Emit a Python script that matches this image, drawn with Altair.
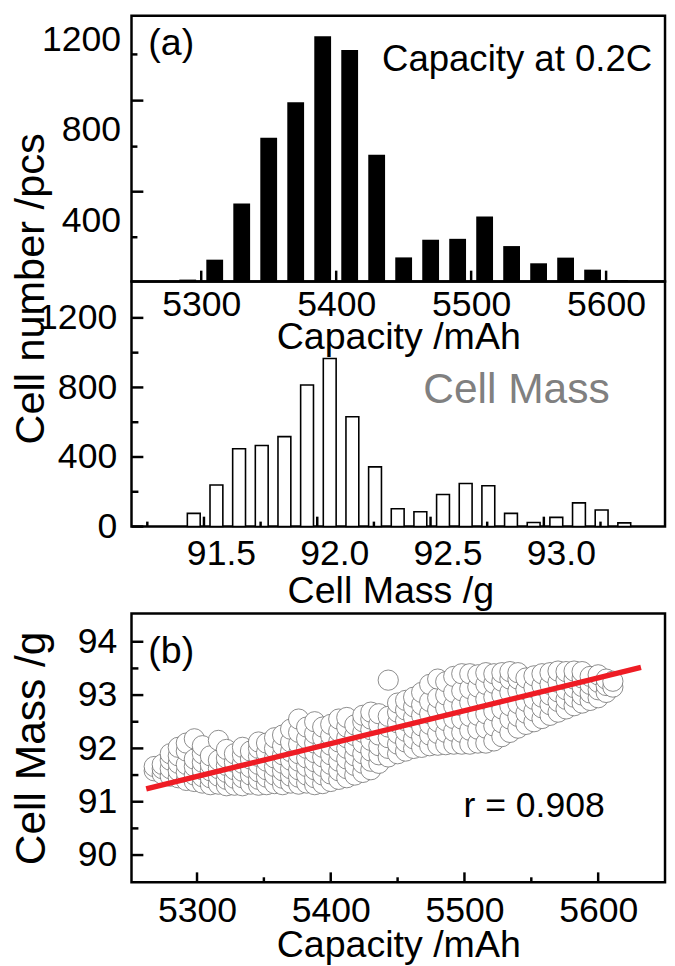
import altair as alt
import pandas as pd

FONT = "Liberation Sans"

# ---------------- (a) capacity histogram ----------------
cap_centers = [5290, 5310, 5330, 5350, 5370, 5390, 5410, 5430, 5450,
               5470, 5490, 5510, 5530, 5550, 5570, 5590, 5610]
cap_counts = [140, 228, 476, 766, 923, 1214, 1154, 691, 238,
              316, 320, 419, 288, 212, 237, 184, 138]
cap_axis_values = [5300, 5400, 5500, 5600]
cap_minor_values = [5350, 5450, 5550]
top_count_labels = [400, 800, 1200]
top_tick_long = [528, 930]
top_tick_short = [327, 727, 1134]

# ---------------- cell mass histogram ----------------
mass_centers = [91.38, 91.48, 91.58, 91.68, 91.78, 91.88, 91.98, 92.08, 92.18, 92.28,
                92.38, 92.48, 92.58, 92.68, 92.78, 92.88, 92.98, 93.08, 93.18, 93.28]
mass_counts = [76, 239, 447, 466, 517, 814, 966, 631, 343, 102,
               85, 184, 248, 235, 76, 23, 53, 136, 95, 21]
mass_axis_values = [91.5, 92.0, 92.5, 93.0]
mass_tick_long = [91.425, 91.925, 92.425, 92.925]
mass_tick_short = [91.175, 91.675, 92.175, 92.675, 93.175]
mid_count_labels = [0, 400, 800, 1200]
mid_count_minor = [200, 600, 1000]

# ---------------- (b) scatter ----------------
scatter_caps = [5268, 5274, 5280, 5286, 5292, 5298, 5304, 5310, 5316, 5322, 5328, 5334,
                5340, 5346, 5352, 5358, 5364, 5370, 5376, 5382, 5388, 5394, 5400, 5406,
                5412, 5418, 5424, 5430, 5436, 5443, 5450, 5456, 5462, 5468, 5474, 5480,
                5486, 5492, 5498, 5504, 5510, 5516, 5522, 5528, 5534, 5540, 5546, 5552,
                5558, 5564, 5570, 5576, 5582, 5588, 5594, 5600, 5606, 5611]
scatter_mass = [
    [91.58, 91.66],
    [91.52, 91.62, 91.7],
    [91.48, 91.62, 91.78, 91.9],
    [91.45, 91.58, 91.72, 91.86, 92.02],
    [91.4, 91.55, 91.7, 91.95, 92.1],
    [91.38, 91.5, 91.66, 91.8, 92.18],
    [91.35, 91.47, 91.6, 91.74, 91.9, 92.05],
    [91.32, 91.45, 91.58, 91.7, 91.86],
    [91.33, 91.48, 91.62, 91.78, 92.15],
    [91.3, 91.42, 91.55, 91.68, 91.82, 91.98],
    [91.31, 91.44, 91.6, 91.74, 91.9],
    [91.3, 91.45, 91.57, 91.72, 91.88, 92.02],
    [91.33, 91.5, 91.64, 91.8, 91.95],
    [91.31, 91.42, 91.56, 91.7, 91.85, 92.0, 92.12],
    [91.32, 91.46, 91.6, 91.76, 91.92, 92.1],
    [91.34, 91.5, 91.66, 91.82, 92.0, 92.2],
    [91.32, 91.44, 91.58, 91.72, 91.88, 92.05, 92.25],
    [91.35, 91.48, 91.62, 91.78, 91.94, 92.12, 92.36],
    [91.33, 91.46, 91.6, 91.76, 91.9, 92.08, 92.3, 92.55],
    [91.35, 91.5, 91.66, 91.82, 92.0, 92.18, 92.4],
    [91.32, 91.45, 91.6, 91.75, 91.92, 92.1, 92.28, 92.5],
    [91.34, 91.5, 91.66, 91.84, 92.02, 92.2, 92.4],
    [91.38, 91.52, 91.7, 91.88, 92.06, 92.24, 92.45],
    [91.42, 91.58, 91.76, 91.94, 92.12, 92.32, 92.55],
    [91.45, 91.62, 91.8, 92.0, 92.2, 92.4, 92.58],
    [91.5, 91.68, 91.86, 92.04, 92.24, 92.44],
    [91.55, 91.72, 91.9, 92.1, 92.3, 92.5, 92.62],
    [91.6, 91.76, 91.95, 92.15, 92.35, 92.55, 92.68],
    [91.72, 91.88, 92.05, 92.25, 92.45, 92.65],
    [91.84, 92.0, 92.2, 92.4, 92.6, 93.28],
    [91.9, 92.08, 92.28, 92.48, 92.68, 92.85],
    [91.95, 92.12, 92.32, 92.52, 92.72, 92.9],
    [92.0, 92.18, 92.38, 92.58, 92.78, 92.96],
    [92.02, 92.22, 92.42, 92.62, 92.82, 93.05],
    [92.05, 92.25, 92.45, 92.65, 92.88, 93.2],
    [92.06, 92.28, 92.5, 92.72, 92.95, 93.3],
    [92.07, 92.3, 92.52, 92.76, 93.0, 93.25],
    [92.08, 92.32, 92.56, 92.8, 93.05, 93.35],
    [92.08, 92.3, 92.55, 92.8, 93.08, 93.4],
    [92.08, 92.34, 92.6, 92.86, 93.12, 93.4],
    [92.1, 92.36, 92.62, 92.9, 93.15, 93.38],
    [92.1, 92.38, 92.65, 92.92, 93.2, 93.42],
    [92.14, 92.42, 92.7, 92.96, 93.22, 93.4],
    [92.22, 92.48, 92.74, 93.0, 93.26, 93.42],
    [92.3, 92.55, 92.8, 93.05, 93.3, 93.44],
    [92.38, 92.6, 92.84, 93.08, 93.3, 93.42],
    [92.45, 92.66, 92.88, 93.1, 93.32],
    [92.5, 92.7, 92.92, 93.14, 93.36],
    [92.56, 92.76, 92.96, 93.18, 93.4],
    [92.62, 92.82, 93.0, 93.2, 93.42],
    [92.68, 92.88, 93.06, 93.24, 93.45],
    [92.74, 92.92, 93.1, 93.28, 93.44],
    [92.8, 92.96, 93.14, 93.3, 93.45],
    [92.85, 93.0, 93.16, 93.32, 93.44],
    [92.9, 93.04, 93.2, 93.35],
    [92.95, 93.1, 93.24, 93.38],
    [93.05, 93.18, 93.3],
    [93.15, 93.26],
]
fit_cap = [5262, 5632]
fit_mass = [91.24, 93.52]
bot_mass_labels = [90, 91, 92, 93, 94]
bot_mass_minor = [90.5, 91.5, 92.5, 93.5]
bot_cap_minor = [5350, 5450, 5550]

# annotation texts
panel_a = ["(a)"]
panel_b = ["(b)"]
cap_note = ["Capacity at 0.2C"]
mass_note = ["Cell Mass"]
r_note = ["r = 0.908"]

W = 540
H_TOP, H_MID, H_GAP, H_BOT = 269, 248, 88, 272

common = dict(labelFont=FONT, titleFont=FONT, labelFontSize=36, titleFontSize=38,
              labelColor="black", titleColor="black", titleFontWeight="normal",
              ticks=False, tickSize=0, domain=False, grid=False,
              labelOverlap=False, labelFlush=False)


def left_ticks(values, length, field, scale, axis):
    return alt.Chart(pd.DataFrame({field: values})).mark_rule(
        color="black", strokeWidth=2.5).encode(
        y=alt.Y(f"{field}:Q", scale=scale, axis=axis),
        x=alt.value(0), x2=alt.value(length))


def bottom_ticks(values, length, field, scale, axis, h):
    return alt.Chart(pd.DataFrame({field: values})).mark_rule(
        color="black", strokeWidth=2.5).encode(
        x=alt.X(f"{field}:Q", scale=scale, axis=axis),
        y=alt.value(h), y2=alt.value(h - length))


def note(texts, x, y, size, align="left", color="black"):
    return alt.Chart(pd.DataFrame({"t": texts})).mark_text(
        font=FONT, fontSize=size, align=align, baseline="alphabetic", color=color).encode(
        text="t:N", x=alt.value(x), y=alt.value(y))


# ---------- top panel ----------
xs_top = alt.Scale(domain=[5252, 5640], nice=False, zero=False)
ys_top = alt.Scale(domain=[131.5, 1304.6], nice=False, zero=False)
ax_top_x = alt.Axis(values=cap_axis_values, format="d", title="Capacity /mAh",
                    labelBaseline="alphabetic", labelPadding=34,
                    titleBaseline="alphabetic", titleY=68, **common)
ax_top_y = alt.Axis(values=top_count_labels, format="d", title="", labelPadding=11, **common)

top_df = pd.DataFrame({"cap": cap_centers, "n": cap_counts})
top_bars = alt.Chart(top_df).mark_bar(size=17, color="black", orient="vertical").encode(
    x=alt.X("cap:Q", scale=xs_top, axis=ax_top_x),
    y=alt.Y("n:Q", scale=ys_top, axis=ax_top_y),
    y2=alt.datum(131.5))

top = alt.layer(
    left_ticks(top_tick_long, 12, "n", ys_top, ax_top_y),
    left_ticks(top_tick_short, 6, "n", ys_top, ax_top_y),
    bottom_ticks(cap_axis_values, 11, "cap", xs_top, ax_top_x, H_TOP),
    bottom_ticks(cap_minor_values, 6, "cap", xs_top, ax_top_x, H_TOP),
    top_bars,
    note(panel_a, 17, 40, 38),
    note(cap_note, 527, 56, 37, align="right"),
).properties(width=W, height=H_TOP)

# ---------- middle panel ----------
xs_mid = alt.Scale(domain=[91.127, 93.438], nice=False, zero=False)
ys_mid = alt.Scale(domain=[0, 1409], nice=False, zero=False)
ax_mid_x = alt.Axis(values=mass_axis_values, format=".1f", title="Cell Mass /g",
                    labelBaseline="alphabetic", labelPadding=38,
                    titleBaseline="alphabetic", titleX=262, titleY=77, **common)
ax_mid_y = alt.Axis(values=mid_count_labels, format="d", title="Cell number /pcs",
                    labelPadding=15, titleBaseline="alphabetic", titleAngle=270,
                    titleAlign="center", titleX=-89, titleY=7,
                    **{**common, "titleFontSize": 42})

mid_df = pd.DataFrame({"m": mass_centers, "n": mass_counts})
mid_bars = alt.Chart(mid_df).mark_bar(
    size=13, fill="white", stroke="black", strokeWidth=1.6, orient="vertical").encode(
    x=alt.X("m:Q", scale=xs_mid, axis=ax_mid_x),
    y=alt.Y("n:Q", scale=ys_mid, axis=ax_mid_y),
    y2=alt.datum(0))

mid = alt.layer(
    mid_bars,
    left_ticks(mid_count_labels, 12, "n", ys_mid, ax_mid_y),
    left_ticks(mid_count_minor, 7, "n", ys_mid, ax_mid_y),
    bottom_ticks(mass_tick_long, 10, "m", xs_mid, ax_mid_x, H_MID),
    bottom_ticks(mass_tick_short, 5, "m", xs_mid, ax_mid_x, H_MID),
    note(mass_note, 484, 123, 43, align="right", color="#808080"),
).properties(width=W, height=H_MID)

# ---------- spacer ----------
spacer = alt.Chart(pd.DataFrame({"s": [0]})).mark_point(opacity=0).encode(
    x=alt.value(0), y=alt.value(0)
).properties(width=W, height=H_GAP, view=alt.ViewBackground(stroke="transparent"))

# ---------- bottom panel ----------
xs_bot = alt.Scale(domain=[5251, 5650], nice=False, zero=False)
ys_bot = alt.Scale(domain=[89.49, 94.53], nice=False, zero=False)
ax_bot_x = alt.Axis(values=cap_axis_values, format="d", title="Capacity /mAh",
                    labelBaseline="alphabetic", labelPadding=40,
                    titleBaseline="alphabetic", titleY=75, **common)
ax_bot_y = alt.Axis(values=bot_mass_labels, format="d", title="Cell Mass /g",
                    labelPadding=15, titleBaseline="alphabetic", titleAngle=270,
                    titleAlign="center", titleX=-88, titleY=H_BOT / 2,
                    **{**common, "titleFontSize": 43})

pts = [(c, m) for c, col in zip(scatter_caps, scatter_mass) for m in col]
sc_df = pd.DataFrame(pts, columns=["cap", "mass"])
fit_df = pd.DataFrame({"cap": fit_cap, "mass": fit_mass})

circles = alt.Chart(sc_df).mark_circle(
    size=420, fill="white", stroke="#707070", strokeWidth=0.8, opacity=1).encode(
    x=alt.X("cap:Q", scale=xs_bot, axis=ax_bot_x),
    y=alt.Y("mass:Q", scale=ys_bot, axis=ax_bot_y))
fit_line = alt.Chart(fit_df).mark_line(color="#ee1c24", strokeWidth=5.5).encode(
    x=alt.X("cap:Q", scale=xs_bot, axis=ax_bot_x),
    y=alt.Y("mass:Q", scale=ys_bot, axis=ax_bot_y))

bot = alt.layer(
    circles,
    fit_line,
    left_ticks(bot_mass_labels, 12, "mass", ys_bot, ax_bot_y),
    left_ticks(bot_mass_minor, 7, "mass", ys_bot, ax_bot_y),
    bottom_ticks(cap_axis_values, 10, "cap", xs_bot, ax_bot_x, H_BOT),
    bottom_ticks(bot_cap_minor, 5, "cap", xs_bot, ax_bot_x, H_BOT),
    note(panel_b, 17, 50, 38),
    note(r_note, 336, 206, 36),
).properties(width=W, height=H_BOT)

chart = alt.vconcat(top, mid, spacer, bot, spacing=0, bounds="flush", padding=0,
                    background="white").configure_view(stroke="black", strokeWidth=2.5)

chart.save("out.html", embed_options={"renderer": "svg", "actions": False})
